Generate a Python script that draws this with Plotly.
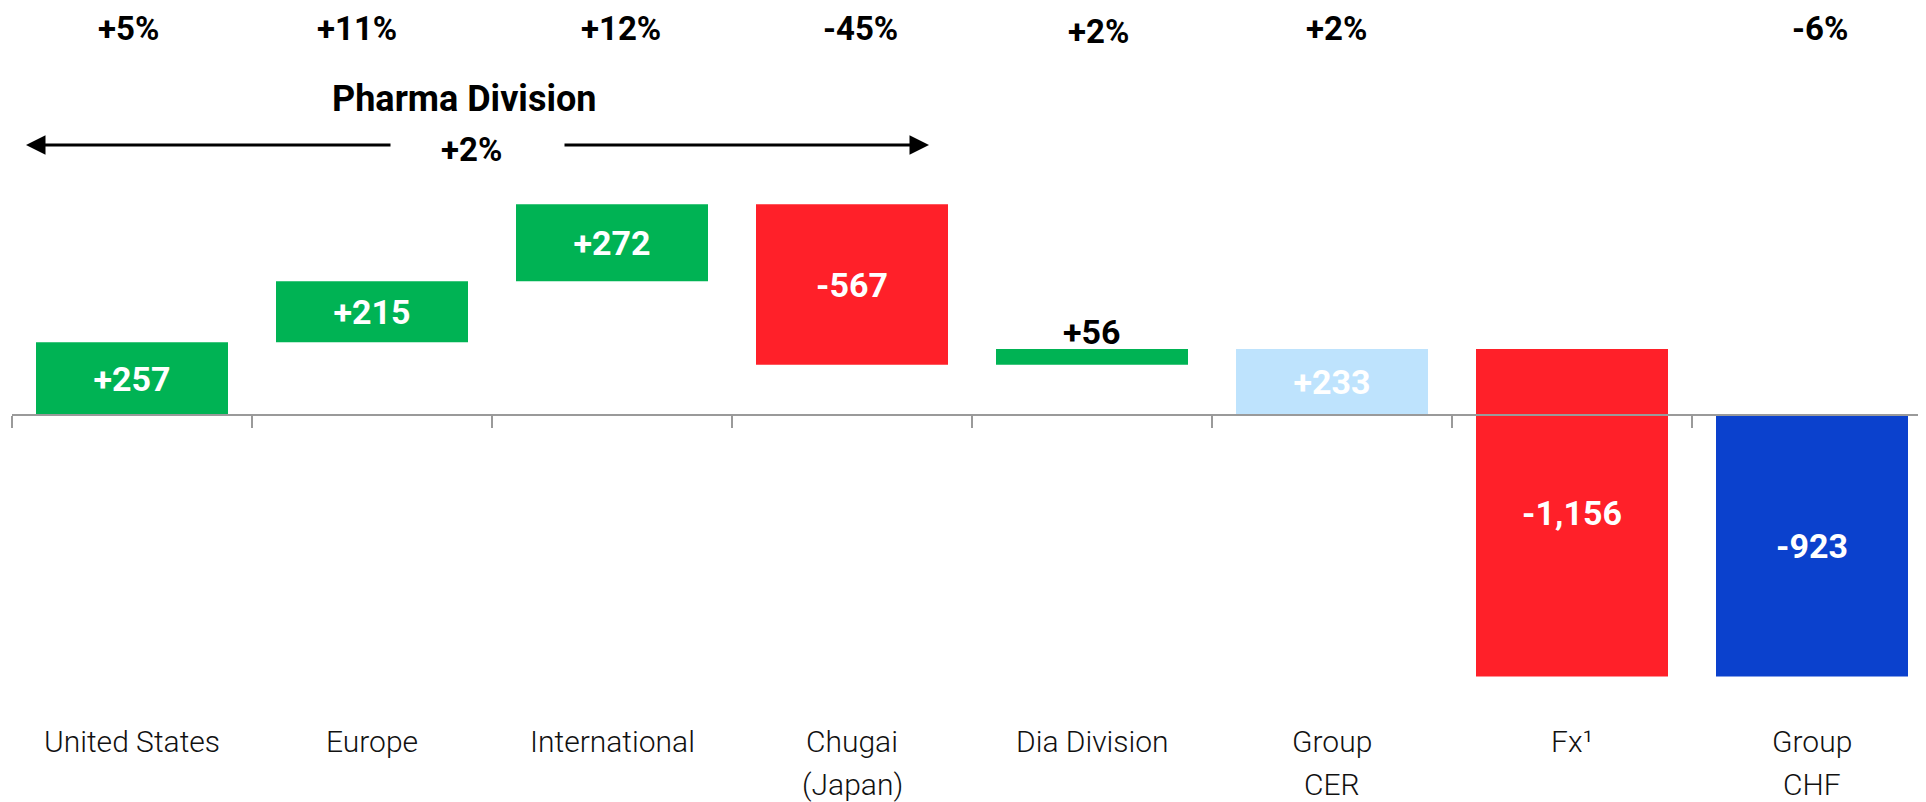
import plotly.graph_objects as go

# ---- data ----
categories = ["United States", "Europe", "International", "Chugai<br>(Japan)",
              "Dia Division", "Group<br>CER", "Fx¹", "Group<br>CHF"]
values = [257, 215, 272, -567, 56, 233, -1156, -923]
measures = ["relative", "relative", "relative", "relative", "relative",
            "total", "relative", "total"]
growth_pct = ["+5%", "+11%", "+12%", "-45%", "+2%", "+2%", "", "-6%"]
bar_colors = ["#00B354", "#00B354", "#00B354", "#FF2029", "#00B354",
              "#BEE3FD", "#FF2029", "#0B41CD"]
label_inside = [True, True, True, True, False, True, True, True]
pharma_title = "Pharma Division"
pharma_pct = "+2%"

# small horizontal / vertical nudges of the growth labels (pixels)
pct_xshift = [-4, -15, 9, 8, 6, 4, 0, 8]
pct_yshift = [0, 0, 0, 0, -3, 0, 0, 0]

# ---- waterfall geometry from data ----
bases, heights = [], []
running = 0
for v, m in zip(values, measures):
    if m == "total":
        bases.append(0)
        heights.append(v)
        running = v
    else:
        bases.append(running)
        heights.append(v)
        running += v

labels = [f"{v:+,}" for v in values]
inside_texts = [t if ins else "" for t, ins in zip(labels, label_inside)]

FONT = "Roboto"
OFF = 8            # default page body margin
W, H = 1926 - OFF, 802 - OFF
zero_px = 415 - OFF


def py(page_y):
    return 1 - (page_y - OFF) / H


def dx(page_x):
    return (page_x - 132) / 240


fig = go.Figure()
fig.add_trace(go.Bar(
    x=categories, y=heights, base=bases,
    marker=dict(color=bar_colors, line=dict(width=0)),
    width=0.8,
    text=inside_texts, textposition="inside",
    insidetextanchor="middle",
    textfont=dict(family=FONT, size=34, color="white", weight="bold"),
    constraintext="none", cliponaxis=False,
    hoverinfo="skip",
))

ann = []
# labels above bars that are too thin to hold them
for i, (t, ins) in enumerate(zip(labels, label_inside)):
    if not ins:
        top = max(bases[i], bases[i] + heights[i])
        ann.append(dict(x=i, xref="x", y=top, yref="y", text=t, showarrow=False,
                        yanchor="middle", yshift=17,
                        font=dict(family=FONT, size=34, color="black", weight="bold")))
# growth percentages on top
for i, p in enumerate(growth_pct):
    if p:
        ann.append(dict(x=i, xref="x", y=py(28), yref="paper", text=p,
                        showarrow=False, yanchor="middle",
                        xshift=pct_xshift[i], yshift=pct_yshift[i],
                        font=dict(family=FONT, size=33, color="black", weight="bold")))
# category labels (one annotation per line for the wider line spacing)
for i, c in enumerate(categories):
    for j, line in enumerate(c.split("<br>")):
        ann.append(dict(x=i, xref="x", y=py(741 + 43 * j), yref="paper", text=line,
                        showarrow=False, yanchor="middle", align="center",
                        font=dict(family=FONT, size=30, color="#111111", weight=300)))
# pharma division header
ann.append(dict(x=dx(464), xref="x", y=py(99), yref="paper",
                text=pharma_title, showarrow=False, yanchor="middle",
                font=dict(family=FONT, size=36, color="black", weight="bold")))
ann.append(dict(x=dx(471), xref="x", y=py(149), yref="paper",
                text=pharma_pct, showarrow=False, yanchor="middle",
                font=dict(family=FONT, size=33, color="black", weight="bold")))
# arrows
ann.append(dict(x=dx(26), xref="x", y=py(145), yref="paper",
                ax=366, ay=0, text="", showarrow=True, arrowhead=2,
                arrowwidth=3, arrowsize=1.3, arrowcolor="black"))
ann.append(dict(x=dx(929), xref="x", y=py(145), yref="paper",
                ax=-366, ay=0, text="", showarrow=True, arrowhead=2,
                arrowwidth=3, arrowsize=1.3, arrowcolor="black"))

units_per_px = 3.53
fig.update_layout(
    width=W, height=H,
    margin=dict(l=12 - OFF, r=0, t=0, b=0),
    plot_bgcolor="white", paper_bgcolor="white",
    showlegend=False,
    xaxis=dict(type="category", range=[-0.5, -0.5 + (W - (12 - OFF)) / 240],
               showticklabels=False, ticks="outside", tickson="boundaries",
               ticklen=12, tickwidth=1.5, tickcolor="#9A9A9A",
               showline=True, linecolor="#9A9A9A", linewidth=2,
               showgrid=False, zeroline=False,
               anchor="free", position=(H - zero_px) / H),
    yaxis=dict(range=[-(H - zero_px) * units_per_px, zero_px * units_per_px],
               visible=False, showgrid=False, zeroline=False),
    annotations=ann,
)

fig.write_html("out.html")
